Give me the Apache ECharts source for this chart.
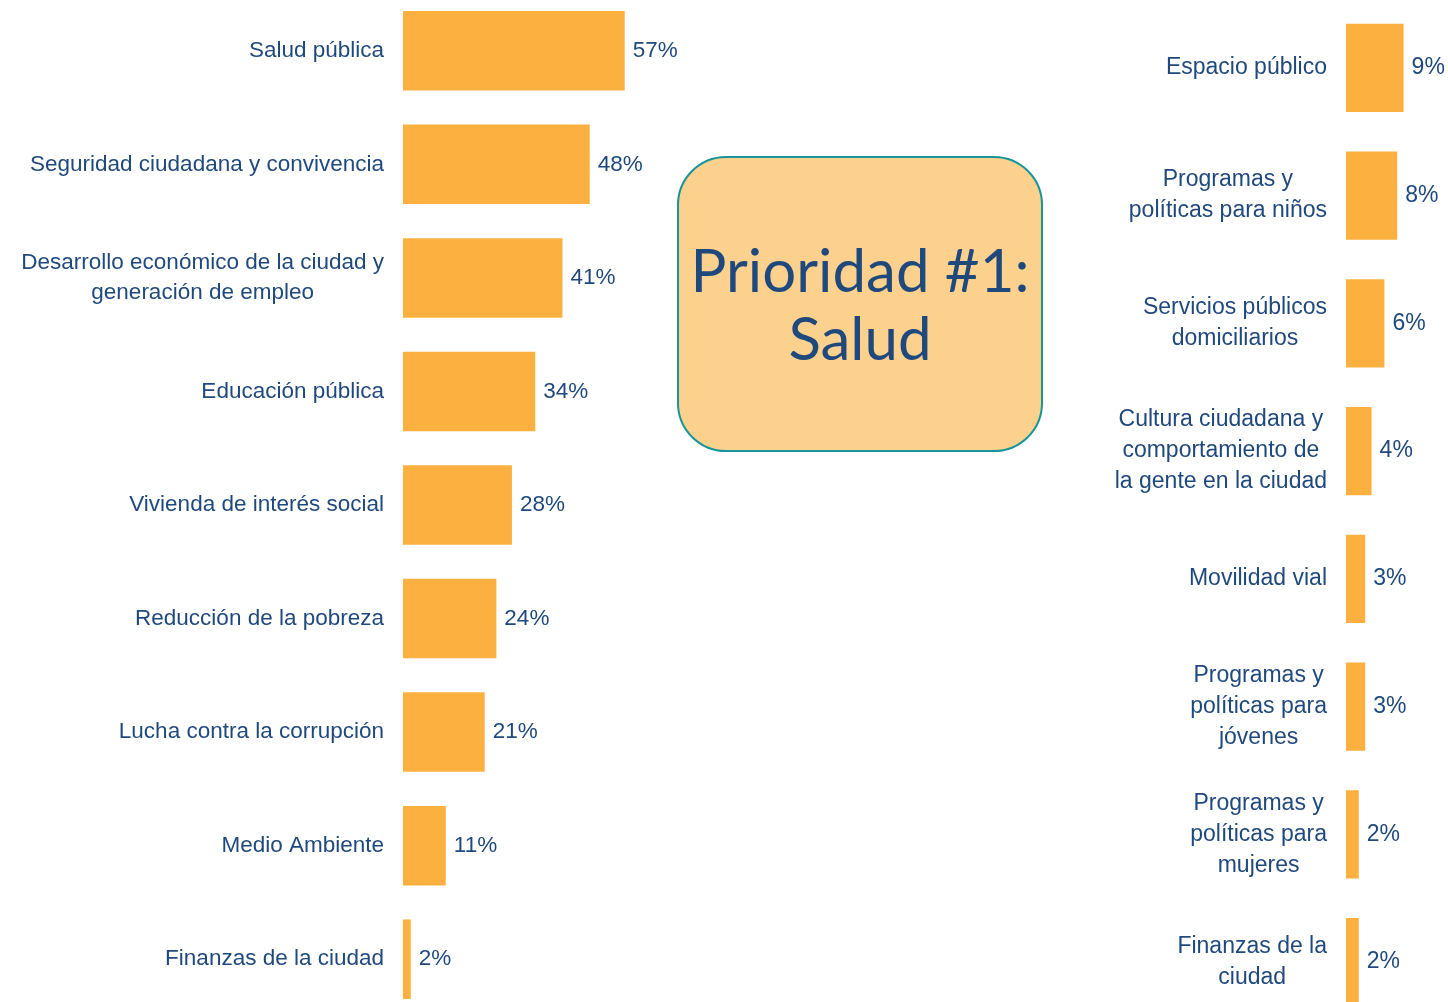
<!DOCTYPE html>
<html>
<head>
<meta charset="utf-8">
<script src="https://cdn.jsdelivr.net/npm/echarts@6/dist/echarts.min.js"></script>
<style>
  html, body { margin: 0; padding: 0; background: #fff; }
  #chart { width: 1448px; height: 1002px; }
</style>
</head>
<body>
<div id="chart"></div>
<script>
/* Prioridades - two horizontal bar lists with a highlight box in the middle */
const leftCats = [
  'Salud pública',
  'Seguridad ciudadana y convivencia',
  'Desarrollo económico de la ciudad y\ngeneración de empleo',
  'Educación pública',
  'Vivienda de interés social',
  'Reducción de la pobreza',
  'Lucha contra la corrupción',
  'Medio Ambiente',
  'Finanzas de la ciudad'
];
const leftVals = [57, 48, 41, 34, 28, 24, 21, 11, 2];

const rightCats = [
  'Espacio público',
  'Programas y\npolíticas para niños',
  'Servicios públicos\ndomiciliarios',
  'Cultura ciudadana y\ncomportamiento de\nla gente en la ciudad',
  'Movilidad vial',
  'Programas y\npolíticas para\njóvenes',
  'Programas y\npolíticas para\nmujeres',
  'Finanzas de la\nciudad'
];
const rightVals = [9, 8, 6, 4, 3, 3, 2, 2];

const boxText = 'Prioridad #1:\nSalud';

const BAR = '#FBB040';
const INK = '#1F497D';
const FONT = '"Liberation Sans", Arial, sans-serif';

const chart = echarts.init(document.getElementById('chart'));

const catLabel = (v) => v.split('\n').map((s) => '{c|' + s + '}').join('\n');

function yAxisFor(idx, cats, size, lh) {
  return {
    type: 'category', gridIndex: idx, data: cats, inverse: true,
    axisLine: { show: false }, axisTick: { show: false },
    axisLabel: {
      margin: 19, align: 'right', formatter: catLabel,
      rich: { c: { align: 'center', fontSize: size, lineHeight: lh, color: INK, fontFamily: FONT } }
    }
  };
}

function barSeries(idx, vals, gap, size) {
  return {
    type: 'bar', xAxisIndex: idx, yAxisIndex: idx, data: vals,
    barCategoryGap: gap, silent: true,
    itemStyle: { color: BAR },
    label: {
      show: true, position: 'right', distance: 8,
      formatter: '{c}%', color: INK, fontSize: size, fontFamily: FONT
    }
  };
}

chart.setOption({
  animation: false,
  grid: [
    { left: 403, width: 389, top: -6, height: 1022, outerBoundsMode: 'none', containLabel: false },
    { left: 1346, width: 64, top: 4, height: 1022, outerBoundsMode: 'none', containLabel: false }
  ],
  xAxis: [
    { type: 'value', gridIndex: 0, min: 0, max: 100, show: false },
    { type: 'value', gridIndex: 1, min: 0, max: 10, show: false }
  ],
  yAxis: [yAxisFor(0, leftCats, 22.5, 30), yAxisFor(1, rightCats, 23, 31)],
  series: [barSeries(0, leftVals, '30%', 22.5), barSeries(1, rightVals, '31%', 23)],
  graphic: [
    {
      type: 'rect', silent: true,
      shape: { x: 678, y: 157, width: 364, height: 294, r: 48 },
      style: { fill: '#FCD08D', stroke: '#17959A', lineWidth: 2 }
    },
    {
      type: 'text', silent: true,
      style: {
        x: 860, y: 307, text: boxText, align: 'center', verticalAlign: 'middle',
        fontSize: 60, lineHeight: 68, fill: INK, fontFamily: 'Lato, "Open Sans", sans-serif'
      }
    }
  ]
});
</script>
</body>
</html>
